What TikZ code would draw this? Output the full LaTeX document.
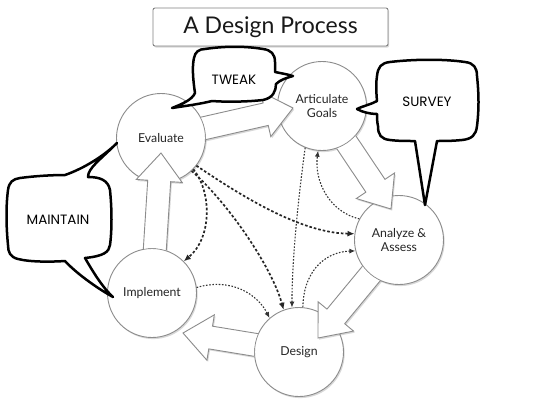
\documentclass[tikz,border=0pt]{standalone}
\usepackage{fontspec}
\setmainfont{Lato}
\newfontfamily\comicfont{Poppins}
\usetikzlibrary{calc,shadows,arrows.meta}
\tikzset{
  stage/.style={circle, draw=black!45, line width=0.9pt, fill=white, minimum size=89pt,
    inner sep=0pt, text=black!85, font=\fontsize{12.3}{14}\selectfont, align=center,
    drop shadow={shadow xshift=1.2pt, shadow yshift=-1.6pt, opacity=0.3}},
  blockarr/.style={fill=white, draw=black!45, line width=0.9pt, line join=miter,
    nonzero rule,
    drop shadow={shadow xshift=1.2pt, shadow yshift=-1.6pt, opacity=0.3}},
  bolddash/.style={draw=black!85, line width=1.7pt, dash pattern=on 2.6pt off 2pt,
    -{Latex[length=7pt,width=6pt]}},
  finedot/.style={draw=black!80, line width=1.1pt, dash pattern=on 1.6pt off 1.6pt,
    -{Latex[length=6pt,width=5pt]}},
  bubble/.style={draw=black, line width=2.5pt, fill=white, line join=round},
  bubbletext/.style={font=\comicfont\fontsize{13.5}{14}\selectfont, inner sep=0pt},
  titlebox/.style={draw=black!50, line width=0.9pt, fill=white, rounded corners=2pt,
    minimum width=235pt, minimum height=38pt, text=black!90,
    font=\fontsize{23}{25}\selectfont,
    drop shadow={shadow xshift=1.2pt, shadow yshift=-1.6pt, opacity=0.3}}
}
\newcommand\blockarrow[2]{%
  \begin{scope}[even odd rule]
    \clip (-20,-20) rectangle (563,436) (#1.center) circle[radius=45];
    \coordinate (hb) at ($(#2)!28pt!(#1.center)$);
    \path[blockarr] ($(#1.center)!11.5pt!90:(#2)$) -- ($(hb)!11.5pt!90:(#2)$)
      -- ($(hb)!23pt!90:(#2)$) -- (#2) -- ($(hb)!23pt!-90:(#2)$)
      -- ($(hb)!11.5pt!-90:(#2)$) -- ($(#1.center)!11.5pt!-90:(#2)$) -- cycle;
  \end{scope}}
\begin{document}
\begin{tikzpicture}[x=1pt,y=-1pt]
\useasboundingbox[fill=white] (0,0) rectangle (543,416);

% stages
\node[stage] (ev) at (161,138) {Evaluate};
\node[stage] (ag) at (322,106) {Articulate\\Goals};
\node[stage] (an) at (399,240) {Analyze \&\\Assess};
\node[stage] (de) at (299,352) {Design};
\node[stage] (im) at (152,293) {Implement};

% tips of block arrows
\coordinate (t1) at (293,108);
\coordinate (t2) at (391,209);
\coordinate (t3) at (318,338);
\coordinate (t4) at (183,333);
\coordinate (t5) at (161,153);

\blockarrow{ev}{t1}
\blockarrow{ag}{t2}
\blockarrow{an}{t3}
\blockarrow{de}{t4}
\blockarrow{im}{t5}

% dashed connectors
\draw[bolddash] (ev.-44) .. controls (212,192) and (212,238) .. (im.45);
\draw[bolddash] (ev.-38) .. controls (240,195) and (300,233) .. (an.172);
\draw[bolddash] (ev.-47) .. controls (230,205) and (272,268) .. (de.110);
\draw[finedot] (ag.-112) .. controls (298,200) and (292,260) .. (de.99);
\draw[finedot] (an.152) .. controls (330,212) and (314,182) .. (ag.-95);
\draw[finedot] (de.85) .. controls (303,275) and (322,252) .. (an.-166);
\draw[finedot] (im.7) .. controls (232,277) and (258,295) .. (de.131);

% title
\node[titlebox] (title) at (270.5,27) {A Design Process};

% TWEAK bubble
\path[bubble] (205,49) .. controls (225,46) and (245,46) .. (263,49)
  .. controls (271,50) and (275,54) .. (275,62)
  .. controls (275,66) and (275,69) .. (275,72)
  .. controls (280,73) and (286,74) .. (293,76)
  .. controls (286,78) and (280,80) .. (276,84)
  .. controls (276,91) and (273,98) .. (263,100)
  .. controls (245,102) and (225,102) .. (212,101)
  .. controls (200,104) and (185,106) .. (172,108)
  .. controls (182,104) and (192,100) .. (195,93)
  .. controls (193,80) and (192,66) .. (194,58)
  .. controls (195,52) and (199,49) .. (205,49) -- cycle;
\node[bubbletext] (tweak) at (234,80) {TWEAK};

% SURVEY bubble
\path[bubble] (390,62) .. controls (415,59) and (445,59) .. (465,62)
  .. controls (474,63) and (477,68) .. (477,76)
  .. controls (479,95) and (479,110) .. (477,126)
  .. controls (476,135) and (472,139) .. (462,140)
  .. controls (452,141) and (444,141) .. (437,141)
  -- (425,205) -- (415,141)
  .. controls (405,141) and (398,141) .. (390,140)
  .. controls (381,139) and (378,135) .. (378,126)
  .. controls (377,122) and (377,117) .. (377,114)
  .. controls (370,114) and (362,112) .. (357,109)
  .. controls (363,106) and (372,104) .. (377,101)
  .. controls (376,90) and (376,82) .. (377,76)
  .. controls (378,67) and (381,63) .. (390,62) -- cycle;
\node[bubbletext] (survey) at (427,102) {SURVEY};

% MAINTAIN bubble
\path[bubble] (20,178) .. controls (35,176) and (52,175) .. (65,175)
  .. controls (85,168) and (105,155) .. (117,143)
  .. controls (100,160) and (88,168) .. (88,177)
  .. controls (100,177) and (108,180) .. (110,190)
  .. controls (112,210) and (112,230) .. (110,245)
  .. controls (109,252) and (104,256) .. (85,258)
  .. controls (92,270) and (102,287) .. (113,297)
  .. controls (95,287) and (75,272) .. (65,261)
  .. controls (50,262) and (30,262) .. (18,259)
  .. controls (10,257) and (8,252) .. (8,245)
  .. controls (6,225) and (6,205) .. (8,190)
  .. controls (9,182) and (13,179) .. (20,178) -- cycle;
\node[bubbletext] (maintain) at (58,220) {MAINTAIN};
\end{tikzpicture}
\end{document}
